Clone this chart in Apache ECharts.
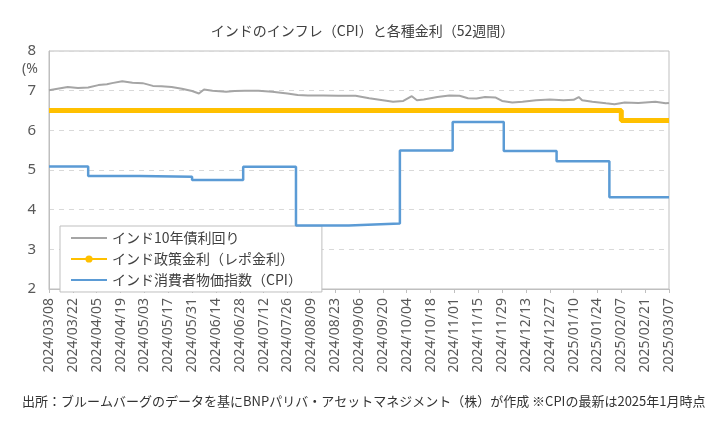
<!DOCTYPE html>
<html>
<head>
<meta charset="utf-8">
<script src="https://cdn.jsdelivr.net/npm/echarts@6/dist/echarts.min.js"></script>
<style>
html,body{margin:0;padding:0;background:#fff;}
#main{width:725px;height:430px;}
</style>
</head>
<body>
<div id="main"></div>
<script>
// ---- data ----
const startDate = '2024/03/08';
const endDate = '2025/03/07';

const yieldDates = ['2024/03/08','2024/03/13','2024/03/19','2024/03/25','2024/03/31','2024/04/06','2024/04/11','2024/04/14','2024/04/20','2024/04/26','2024/05/02','2024/05/08','2024/05/13','2024/05/19','2024/05/25','2024/05/31','2024/06/04','2024/06/07','2024/06/12','2024/06/20','2024/06/25','2024/07/01','2024/07/09','2024/07/17','2024/07/26','2024/08/01','2024/08/07','2024/08/16','2024/08/25','2024/09/04','2024/09/12','2024/09/20','2024/09/26','2024/10/02','2024/10/07','2024/10/10','2024/10/14','2024/10/22','2024/10/29','2024/11/04','2024/11/09','2024/11/14','2024/11/19','2024/11/25','2024/11/29','2024/12/05','2024/12/11','2024/12/19','2024/12/27','2025/01/04','2025/01/10','2025/01/13','2025/01/15','2025/01/21','2025/01/29','2025/02/03','2025/02/09','2025/02/17','2025/02/27','2025/03/05','2025/03/07'];
const yieldValues = [7.01,7.05,7.09,7.07,7.08,7.14,7.16,7.19,7.24,7.20,7.19,7.12,7.11,7.09,7.05,6.99,6.93,7.03,7.00,6.97,6.99,7.00,7.00,6.97,6.93,6.89,6.88,6.88,6.87,6.87,6.81,6.76,6.72,6.74,6.86,6.76,6.78,6.84,6.88,6.87,6.81,6.80,6.84,6.83,6.74,6.70,6.72,6.76,6.78,6.76,6.77,6.84,6.76,6.72,6.68,6.66,6.70,6.69,6.72,6.68,6.69];

const repoDates = ['2024/03/08','2025/02/07','2025/03/07'];
const repoValues = [6.50,6.25,6.25];

const cpiDates = ['2024/03/08','2024/03/31','2024/04/30','2024/05/31','2024/06/30','2024/07/31','2024/08/31','2024/09/30','2024/10/31','2024/11/30','2024/12/31','2025/01/31','2025/03/07'];
const cpiValues = [5.09,4.85,4.83,4.75,5.08,3.60,3.65,5.49,6.21,5.48,5.22,4.31,4.31];

const seriesNames = ['インド10年債利回り','インド政策金利（レポ金利）','インド消費者物価指数（CPI）'];
const yTicks = [2,3,4,5,6,7,8];
const titleText = 'インドのインフレ（CPI）と各種金利（52週間）';
const unitText = '(%';
const footerText = '出所：ブルームバーグのデータを基にBNPパリバ・アセットマネジメント（株）が作成 ※CPIの最新は2025年1月時点';

// ---- helpers ----
const DAY = 86400000;
function toUTC(s){const p=s.split('/').map(Number);return Date.UTC(p[0],p[1]-1,p[2]);}
const t0 = toUTC(startDate);
function dayOff(s){return Math.round((toUTC(s)-t0)/DAY);}
function pad(n){return n<10?'0'+n:''+n;}
function offToLabel(v){const d=new Date(t0+v*DAY);return d.getUTCFullYear()+'/'+pad(d.getUTCMonth()+1)+'/'+pad(d.getUTCDate());}
function pairs(ds,vs){return ds.map((d,i)=>[dayOff(d),vs[i]]);}

const jp = '"Noto Sans CJK JP", "Noto Sans", sans-serif';
const chart = echarts.init(document.getElementById('main'));
chart.setOption({
  backgroundColor:'#fff',
  animation:false,
  title:{text:titleText,left:'center',top:19,textStyle:{fontFamily:jp,fontSize:14,fontWeight:'normal',color:'#404040'}},
  graphic:[
    {type:'text',left:22,top:62,style:{text:unitText,font:'14px "Noto Sans", sans-serif',fill:'#595959'}},
    {type:'text',left:22,top:395,style:{text:footerText,font:'13px "Noto Sans CJK JP", sans-serif',fill:'#333'}}
  ],
  legend:{
    orient:'vertical',left:60,top:226,
    itemWidth:36,itemHeight:9,itemGap:7,
    padding:[5,20,5,10],
    borderColor:'#BFBFBF',borderWidth:1,backgroundColor:'#fff',
    textStyle:{fontFamily:jp,fontSize:14,color:'#404040'},
    data:[
      {name:seriesNames[0],itemStyle:{opacity:0}},
      {name:seriesNames[1]},
      {name:seriesNames[2],itemStyle:{opacity:0}}
    ]
  },
  grid:{left:49,right:56,top:51,bottom:141,show:true,borderColor:'#BFBFBF',borderWidth:1},
  xAxis:{
    type:'value',min:0,max:dayOff(endDate),interval:14,
    axisLine:{show:true,lineStyle:{color:'#BFBFBF'}},
    axisTick:{show:true,length:4,lineStyle:{color:'#BFBFBF'}},
    splitLine:{show:false},
    axisLabel:{rotate:90,margin:9,fontFamily:'"Noto Sans", sans-serif',fontSize:14,color:'#595959',formatter:v=>offToLabel(v),showMinLabel:true,showMaxLabel:true}
  },
  yAxis:{
    type:'value',min:yTicks[0],max:yTicks[yTicks.length-1],interval:1,
    axisLine:{show:true,lineStyle:{color:'#BFBFBF'}},
    axisTick:{show:false},
    splitLine:{show:true,lineStyle:{color:'#D9D9D9',type:[5,5]}},
    axisLabel:{fontFamily:'"Noto Sans", sans-serif',fontSize:15,color:'#595959',margin:13}
  },
  series:[
    {name:seriesNames[0],type:'line',data:pairs(yieldDates,yieldValues),symbol:'none',color:'#A5A5A5',lineStyle:{color:'#A5A5A5',width:2},z:3},
    {name:seriesNames[1],type:'line',data:pairs(repoDates,repoValues),step:'end',symbol:'circle',symbolSize:7,showSymbol:false,color:'#FFC000',lineStyle:{color:'#FFC000',width:5},z:2},
    {name:seriesNames[2],type:'line',data:pairs(cpiDates,cpiValues),step:'end',symbol:'none',color:'#5B9BD5',lineStyle:{color:'#5B9BD5',width:2.5},z:4}
  ]
});
</script>
</body>
</html>
